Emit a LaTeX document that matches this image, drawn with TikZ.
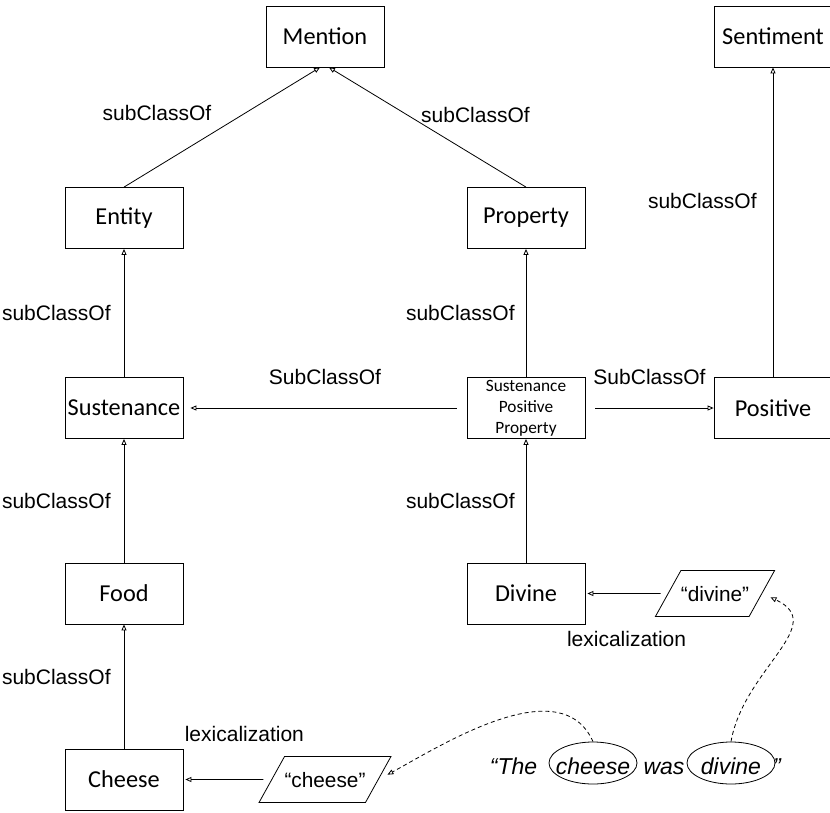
\documentclass[tikz,border=0pt]{standalone}
\usepackage{fontspec}
\setmainfont{Carlito}
\newfontfamily\arialfont{Liberation Sans}
\usetikzlibrary{positioning,shapes.geometric,arrows.meta}

\begin{document}
\begin{tikzpicture}[node distance=186pt,
  class node/.style={draw, line width=0.8pt, minimum width=118pt, minimum height=61pt, inner sep=0pt, font=\fontsize{24.3}{28}\selectfont},
  token node/.style={draw, line width=0.8pt, trapezium, trapezium left angle=61, trapezium right angle=119, trapezium stretches body=true, minimum width=117pt, inner xsep=0pt, inner ysep=15.5pt, text height=15pt, text depth=0pt, font=\arialfont\fontsize{20.8}{24}\selectfont},
  word node/.style={inner sep=0pt, text height=22pt, text depth=0pt, font=\arialfont\itshape\fontsize{23}{27}\selectfont},
  ring node/.style={word node, draw, ellipse, line width=0.8pt, minimum width=88pt, minimum height=42pt},
  lbl/.style={inner sep=0pt, font=\arialfont\fontsize{21}{24}\selectfont},
  isa/.style={line width=0.8pt, -{Triangle[open, length=6pt, width=5pt]}},
  refers/.style={isa, dash pattern=on 4pt off 3pt}]
\useasboundingbox (-124pt,-404pt) rectangle (706pt,408pt);

\node[class node]                                             (sust)      {Sustenance};
\node[class node, above of=sust, node distance=190pt]         (entity)    {Entity};
\node[class node, right of=entity, node distance=402pt]       (property)  {Property};
\node[class node, above of=entity, node distance=181.5pt, xshift=201pt] (mention) {Mention};
\node[class node, right of=sust, node distance=402pt, align=center, font=\fontsize{17.3}{21}\selectfont] (spp) {Sustenance\\Positive\\Property};
\node[class node, right of=spp, node distance=247pt]          (positive)  {Positive};
\node[class node, above of=positive, node distance=371.5pt]   (sentiment) {Sentiment};
\node[class node, below of=sust, node distance=185.5pt]       (food)      {Food};
\node[class node, below of=food]                              (cheese)    {Cheese};
\node[class node, below of=spp, node distance=185.5pt]        (divine)    {Divine};
\node[token node, right of=divine, node distance=189pt]       (divinetok) {“divine”};
\node[token node, right of=cheese, node distance=201pt]       (cheesetok) {“cheese”};

% the sentence
\node[ring node, below of=divine, node distance=169.5pt, xshift=67pt] (cheeseword) {\makebox[0pt]{cheese}};
\node[ring node, right of=cheeseword, node distance=138pt]    (divineword) {\makebox[0pt]{divine}};
\node[word node, left of=cheeseword, node distance=79.5pt]    (the)   {“The};
\node[word node, right of=cheeseword, node distance=71pt]     (was)   {was};
\node[word node, right of=divineword, node distance=46pt]     (close) {”};

\path[isa]
(entity.north)   edge node[lbl, xshift=-65pt, yshift=14pt] {subClassOf} ([xshift=-5pt]mention.south)
(property.north) edge node[lbl, xshift=48pt, yshift=12pt] {subClassOf} ([xshift=4pt]mention.south)
(sust)     edge node[lbl, left=13pt] {subClassOf} (entity)
(food)     edge node[lbl, left=13pt] {subClassOf} (sust)
(cheese)   edge node[lbl, left=13pt, pos=0.58] {subClassOf} (food)
(spp)      edge node[lbl, left=11pt] {subClassOf} (property)
(divine)   edge node[lbl, left=11pt] {subClassOf} (spp)
(positive) edge node[lbl, left=16pt, pos=0.57] {subClassOf} (sentiment)
(spp.west) edge[shorten <=10pt, shorten >=7pt] node[lbl, above=23pt] {SubClassOf} (sust.east)
(spp.east) edge[shorten <=10pt] node[lbl, above=23pt] {SubClassOf} (positive.west)
(divinetok.west) edge[shorten <=7pt, shorten >=2pt] node[lbl, below=37pt] {lexicalization} (divine.east)
(cheesetok.west) edge[shorten <=8pt, shorten >=2pt] node[lbl, above=37pt, xshift=17pt] {lexicalization} (cheese.east);

\draw[refers, shorten >=10pt] (cheeseword.north) .. controls +(-32pt,72pt) and +(64pt,35pt) .. (cheesetok.east);
\draw[refers, shorten >=9pt] (divineword.north) to[out=80, in=-25, looseness=1.25] (divinetok.east);
\end{tikzpicture}
\end{document}
